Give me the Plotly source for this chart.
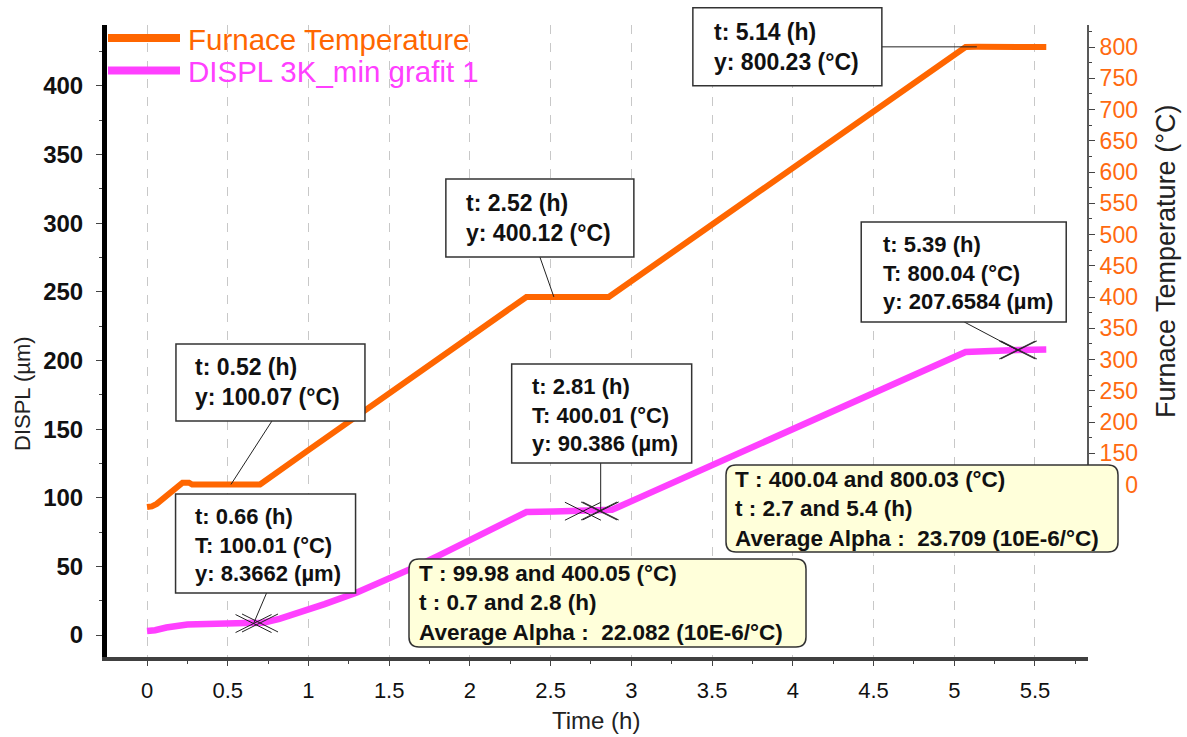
import numpy as np
import plotly.graph_objects as go

# ---------------- data ----------------
furnace_t = [0.00, 0.03, 0.06, 0.10, 0.14, 0.18, 0.22, 0.26, 0.28, 0.52, 0.70,
             1.00, 1.50, 2.00, 2.35, 2.52, 2.86, 3.50, 4.00, 4.50, 5.07, 5.14, 5.57]
furnace_T = [64, 65, 69, 78, 88, 97, 103, 103, 100, 100.07, 100,
             155, 245, 336, 400, 400.12, 400, 516, 607, 698, 800, 800.23, 800]

displ_t = [0.00, 0.05, 0.12, 0.18, 0.25, 0.37, 0.55, 0.66, 0.72, 0.82, 0.95, 1.10,
           1.30, 1.50, 1.63, 1.80, 1.98, 2.19, 2.35, 2.52, 2.70, 2.81, 2.88, 3.05,
           3.50, 4.00, 4.50, 5.07, 5.39, 5.57]
displ_um = [3.0, 3.5, 5.5, 7.0, 7.6, 8.0, 8.2, 8.37, 9.0, 11.8, 16.5, 22.5,
            31.0, 41.0, 48.0, 57.5, 68.0, 80.0, 89.6, 90.0, 90.2, 90.39, 91.2, 100.1,
            123.7, 150.0, 176.2, 206.2, 207.66, 208.0]

temp_callout_t = [0.52, 2.52, 5.14]
temp_callout_T = [100.07, 400.12, 800.23]

displ_callout_t = [0.66, 2.81, 5.39]
displ_callout_T = [100.01, 400.01, 800.04]
displ_callout_y = [8.3662, 90.386, 207.6584]

alpha_T_lo = [99.98, 400.04]
alpha_T_hi = [400.05, 800.03]
alpha_t_lo = [0.7, 2.7]
alpha_t_hi = [2.8, 5.4]
alpha_avg = [22.082, 23.709]

left_ticks = list(range(0, 401, 50))
right_ticks = list(range(0, 801, 50))
# labels 0 and 50 and most of 100 are hidden behind the Alpha box in the reference
right_ticktext = ["", "", "\u2007\u20070"] + [str(v) for v in right_ticks[3:]]

# ---------------- layout constants ----------------
W, H = 1187, 737
ML, MR, MT, MB = 107, 99, 25, 80
PW, PH = W - ML - MR, H - MT - MB
XR = [-0.2478, 5.8284]
YR = [-16.0, 444.4]
Y2R = [-176.0, 835.2]

ORANGE = "#FF6600"
MAGENTA = "#FF40FF"
FONT = "Liberation Sans, Arial, sans-serif"


def px(x):
    return (x - ML) / PW


def py(y):
    return (H - MB - y) / PH


def frac(v, r):
    return (v - r[0]) / (r[1] - r[0])


fig = go.Figure()
fig.add_trace(go.Scatter(x=furnace_t, y=furnace_T, yaxis="y2", mode="lines",
                         line=dict(color=ORANGE, width=6), name="Furnace Temperature",
                         showlegend=False))
fig.add_trace(go.Scatter(x=displ_t, y=displ_um, yaxis="y", mode="lines",
                         line=dict(color=MAGENTA, width=6.5), name="DISPL 3K_min grafit 1",
                         showlegend=False))

shapes = []
annots = []

# right axis line
shapes.append(dict(type="line", xref="paper", yref="y2", x0=1, x1=1, y0=0, y1=Y2R[1],
                   line=dict(color="#222", width=1.5), layer="above"))

# crosses
cross_t = list(displ_callout_t) + list(alpha_t_lo) + list(alpha_t_hi)
cross_y = list(displ_callout_y) + list(np.interp(alpha_t_lo, displ_t, displ_um)) + \
    list(np.interp(alpha_t_hi, displ_t, displ_um))
for ct, cy in zip(cross_t, cross_y):
    for sgn in (1, -1):
        shapes.append(dict(type="line", xref="x", yref="y", xsizemode="pixel", ysizemode="pixel",
                           xanchor=ct, yanchor=cy, x0=-18, x1=18, y0=-9 * sgn, y1=9 * sgn,
                           line=dict(color="#222", width=1), layer="above"))


def callout(tv, fy, box, lend, tpos, text, size):
    shapes.append(dict(type="line", xref="x", yref="paper", xsizemode="pixel", ysizemode="pixel",
                       xanchor=tv, yanchor=fy, x0=0, y0=0, x1=lend[0], y1=lend[1],
                       line=dict(color="#222", width=1), layer="above"))
    shapes.append(dict(type="rect", xref="x", yref="paper", xsizemode="pixel", ysizemode="pixel",
                       xanchor=tv, yanchor=fy, x0=box[0], x1=box[1], y0=box[2], y1=box[3],
                       line=dict(color="#333", width=1.5), fillcolor="white", layer="above"))
    annots.append(dict(xref="x", yref="paper", x=tv, y=fy, xanchor="left", yanchor="middle",
                       xshift=tpos[0], yshift=tpos[1], showarrow=False, align="left", text=text,
                       font=dict(family=FONT, size=size, color="#111", weight="bold")))


temp_layout = [((-55, 134, 63.5, 140.5), (41, 63.5), (-38, 102)),
               ((-108, 80, 40, 118), (-14, 40), (-90, 79)),
               ((-284, -95, -39, 39), (-95, 0), (-265, 0))]
for tv, Tv, (box, lend, tpos) in zip(temp_callout_t, temp_callout_T, temp_layout):
    callout(tv, frac(Tv, Y2R), box, lend, tpos,
            f"t: {tv:.2f} (h)<br>y: {Tv:.2f} (°C)", 23)

displ_layout = [((-78, 102, 30.5, 129.5), (13, 30.5), (-61, 78.5)),
                ((-89, 91, 48, 147), (0, 48), (-71, 96)),
                ((-156, 49, 28, 128), (-53, 28), (-136, 77))]
for tv, Tv, yv, (box, lend, tpos) in zip(displ_callout_t, displ_callout_T, displ_callout_y, displ_layout):
    callout(tv, frac(yv, YR), box, lend, tpos,
            f"t: {tv:.2f} (h)<br>T: {Tv:.2f} (°C)<br>y: {yv} (µm)", 22)


def rounded_rect(x0, y0, x1, y1, r):
    X, Y = px, py
    return (f"M {X(x0 + r)},{Y(y0)} L {X(x1 - r)},{Y(y0)} Q {X(x1)},{Y(y0)} {X(x1)},{Y(y0 + r)} "
            f"L {X(x1)},{Y(y1 - r)} Q {X(x1)},{Y(y1)} {X(x1 - r)},{Y(y1)} "
            f"L {X(x0 + r)},{Y(y1)} Q {X(x0)},{Y(y1)} {X(x0)},{Y(y1 - r)} "
            f"L {X(x0)},{Y(y0 + r)} Q {X(x0)},{Y(y0)} {X(x0 + r)},{Y(y0)} Z")


yellow_layout = [((409, 559, 806, 647), (417, 603)),
                 ((726, 465, 1118, 552), (733, 509))]
for lo, hi, tlo, thi, a, (box, tp) in zip(alpha_T_lo, alpha_T_hi, alpha_t_lo, alpha_t_hi,
                                          alpha_avg, yellow_layout):
    shapes.append(dict(type="path", xref="paper", yref="paper", path=rounded_rect(*box, 10),
                       fillcolor="#FFFFDA", line=dict(color="#333", width=1.5), layer="above"))
    annots.append(dict(xref="paper", yref="paper", x=px(tp[0]), y=py(tp[1]), xanchor="left",
                       yanchor="middle", showarrow=False, align="left",
                       text=f"T : {lo} and {hi} (°C)<br>t : {tlo} and {thi} (h)<br>"
                            f"Average Alpha :\u00a0 {a} (10E-6/°C)",
                       font=dict(family=FONT, size=22.5, color="#111", weight="bold")))

# manual legend
legend_items = [("Furnace Temperature", ORANGE, 38), ("DISPL 3K_min grafit 1", MAGENTA, 70.5)]
for name, col, yy in legend_items:
    shapes.append(dict(type="line", xref="paper", yref="paper", x0=px(108), x1=px(180),
                       y0=py(yy), y1=py(yy), line=dict(color=col, width=8), layer="above"))
    annots.append(dict(xref="paper", yref="paper", x=px(186), y=py(yy + 1), xanchor="left",
                       yanchor="middle", showarrow=False, text=name,
                       font=dict(family=FONT, size=29.5, color=col)))

# axis titles
annots.append(dict(xref="paper", yref="paper", x=px(596), y=py(720), xanchor="center",
                   yanchor="middle", showarrow=False, text="Time (h)",
                   font=dict(family=FONT, size=24, color="#222")))
annots.append(dict(xref="paper", yref="paper", x=px(22), y=py(394), xanchor="center",
                   yanchor="middle", showarrow=False, text="DISPL (µm)", textangle=-90,
                   font=dict(family=FONT, size=22, color="#222")))
annots.append(dict(xref="paper", yref="paper", x=px(1166), y=py(262), xanchor="center",
                   yanchor="middle", showarrow=False, text="Furnace Temperature (°C)", textangle=-90,
                   font=dict(family=FONT, size=27, color="#222")))

fig.update_layout(
    width=W, height=H,
    margin=dict(l=ML, r=MR, t=MT, b=MB, pad=0),
    paper_bgcolor="white", plot_bgcolor="white",
    showlegend=False,
    shapes=shapes, annotations=annots,
    xaxis=dict(range=XR, tickmode="linear", tick0=0, dtick=0.5, ticks="outside", ticklen=5,
               tickcolor="#444", tickwidth=1, showgrid=True, gridcolor="#C8C8C8",
               griddash="dash", gridwidth=1, showline=True, linecolor="#404040", linewidth=4,
               zeroline=False, ticklabelstandoff=6,
               tickfont=dict(family=FONT, size=22, color="#111"),
               minor=dict(dtick=0.25, tick0=0, ticks="outside", ticklen=3, tickcolor="#444",
                          showgrid=False)),
    yaxis=dict(range=YR, tickmode="array", tickvals=left_ticks, ticks="outside", ticklen=6,
               tickcolor="#444", showgrid=False, showline=True, linecolor="black", linewidth=5,
               zeroline=False, ticklabelstandoff=8,
               tickfont=dict(family=FONT, size=24, color="#111", weight="bold"),
               minor=dict(tickmode="array", tickvals=[v + 25 for v in left_ticks],
                          ticks="outside", ticklen=3, tickcolor="#444", showgrid=False)),
    yaxis2=dict(range=Y2R, overlaying="y", side="right", tickmode="array", tickvals=right_ticks,
                ticktext=right_ticktext,
                ticks="outside", ticklen=6, tickcolor="#444", showgrid=False, showline=False,
                zeroline=False, tickfont=dict(family=FONT, size=23, color="#FF6A10"),
                minor=dict(tickmode="array", tickvals=[v + 25 for v in right_ticks],
                           ticks="outside", ticklen=3, tickcolor="#444", showgrid=False)),
)

fig.write_html("out.html", config={"displayModeBar": False},
               post_script="document.body.style.margin='0';document.body.style.overflow='hidden';")
